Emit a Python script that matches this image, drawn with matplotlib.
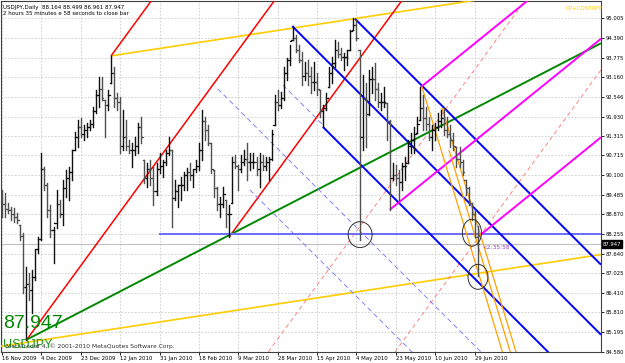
import matplotlib
matplotlib.use("Agg")
import matplotlib.pyplot as plt
from matplotlib.patches import Ellipse

# ---- daily USDJPY bars (bar index 0 = 16 Nov 2009) ----
highs = [89.64, 89.55, 89.24, 89.11, 89.08, 88.92, 88.55, 88.30, 87.24, 87.05,
         87.14, 87.77, 88.17, 90.80, 90.36, 89.86, 89.17, 88.49, 89.64, 89.33,
         89.95, 90.27, 90.36, 90.89, 91.45, 91.83, 91.89, 91.67, 91.73, 91.83,
         92.23, 92.77, 93.17, 93.17, 92.45, 92.77, 93.83, 93.48, 92.67, 92.55,
         92.14, 91.83, 91.20, 91.11, 91.30, 91.73, 91.92, 90.58, 90.49, 90.58,
         90.36, 90.49, 90.80, 90.58, 90.89, 91.30, 90.89, 89.95, 89.80, 90.05,
         90.20, 90.33, 90.49, 90.27, 90.58, 91.11, 92.14, 91.92, 91.67, 91.11,
         90.27, 89.74, 89.42, 89.74, 89.33, 89.17, 90.67, 90.74, 90.42, 90.74,
         90.89, 91.11, 90.80, 90.80, 90.67, 90.80, 90.74, 90.67, 90.67, 91.52,
         92.61, 92.77, 92.70, 93.48, 93.77, 94.17, 94.76, 94.48, 94.17, 93.95,
         93.64, 93.70, 93.48, 93.64, 93.30, 92.77, 92.30, 92.67, 93.48, 93.80,
         94.33, 94.26, 94.08, 93.92, 94.01, 94.64, 95.01, 94.95, 94.01, 93.23,
         92.98, 93.39, 93.48, 93.61, 92.98, 92.67, 92.86, 92.36, 91.83, 90.49,
         90.42, 90.27, 90.49, 90.67, 91.20, 91.42, 91.61, 91.92, 92.86, 92.61,
         92.23, 91.92, 91.67, 91.73, 92.05, 92.14, 92.20, 91.92, 91.67, 91.42,
         90.98, 90.98, 90.58, 89.95, 89.74, 89.24, 89.02, 88.499]
lows = [88.80, 88.80, 88.92, 88.70, 88.64, 88.61, 88.08, 86.42, 84.96, 86.20,
        85.80, 86.83, 87.67, 88.08, 89.64, 88.80, 88.17, 87.36, 88.45, 88.80,
        88.55, 89.42, 89.33, 89.95, 90.89, 90.98, 91.30, 91.20, 91.30, 91.52,
        91.61, 92.05, 92.23, 92.45, 91.30, 92.14, 92.98, 92.23, 92.14, 90.80,
        90.89, 90.89, 90.80, 90.36, 90.74, 90.80, 91.11, 89.86, 89.74, 89.80,
        89.17, 89.49, 90.17, 90.05, 90.42, 90.74, 88.49, 89.33, 89.11, 89.33,
        89.64, 89.64, 89.95, 89.74, 90.20, 90.27, 90.58, 91.20, 91.05, 90.17,
        89.42, 89.02, 88.80, 89.11, 88.49, 88.17, 89.24, 90.33, 89.64, 90.20,
        90.42, 89.95, 90.27, 90.33, 90.11, 89.74, 90.27, 90.27, 89.95, 90.58,
        91.67, 92.14, 92.20, 92.45, 93.08, 93.55, 94.33, 93.95, 93.64, 92.92,
        93.08, 92.92, 92.67, 92.77, 92.61, 91.92, 91.61, 92.14, 92.86, 92.98,
        93.48, 93.80, 93.70, 93.39, 93.55, 94.01, 94.64, 94.33, 88.08, 90.89,
        90.98, 91.98, 92.67, 92.45, 92.23, 92.14, 92.23, 91.20, 89.02, 89.95,
        89.80, 89.33, 89.64, 89.95, 90.49, 90.80, 90.80, 91.42, 91.83, 91.52,
        91.52, 91.20, 90.89, 91.20, 91.52, 91.61, 91.36, 91.30, 90.98, 90.89,
        90.36, 90.36, 90.11, 89.49, 89.17, 88.70, 88.17, 86.961]
closes = [89.20, 89.05, 89.00, 88.90, 88.80, 88.70, 88.20, 86.60, 86.70, 86.50,
          86.90, 87.80, 88.10, 90.30, 89.80, 89.00, 88.40, 88.60, 89.20, 88.90,
          89.70, 90.00, 90.20, 90.90, 91.30, 91.60, 91.40, 91.50, 91.60, 91.70,
          92.10, 92.60, 92.80, 92.50, 92.30, 92.60, 93.30, 92.50, 92.40, 91.00,
          91.30, 91.00, 90.90, 90.90, 91.00, 91.60, 91.30, 90.00, 90.30, 90.00,
          89.60, 90.30, 90.40, 90.50, 90.80, 90.90, 89.40, 89.60, 89.80, 89.80,
          90.10, 90.20, 90.10, 90.30, 90.40, 90.90, 91.80, 91.50, 91.10, 90.30,
          89.70, 89.20, 89.20, 89.50, 88.90, 88.90, 90.50, 90.40, 90.30, 90.50,
          90.60, 90.50, 90.50, 90.50, 90.30, 90.50, 90.40, 90.50, 90.60, 91.40,
          92.40, 92.30, 92.50, 93.30, 93.70, 94.30, 94.40, 94.00, 93.70, 93.20,
          93.30, 93.20, 93.00, 93.00, 92.80, 92.10, 92.20, 92.50, 93.30, 93.60,
          94.00, 93.90, 93.80, 93.80, 94.00, 94.60, 94.80, 94.40, 91.30, 92.50,
          92.00, 93.10, 93.10, 92.80, 92.40, 92.40, 92.40, 91.80, 90.00, 90.10,
          90.00, 89.90, 90.40, 90.40, 91.00, 91.20, 91.40, 91.70, 92.20, 91.90,
          91.70, 91.30, 91.50, 91.60, 91.80, 91.90, 91.50, 91.40, 91.20, 91.00,
          90.60, 90.50, 90.20, 89.70, 89.30, 88.90, 88.164, 87.947]
first_open = 89.40

date_pos = [0, 13, 26, 39, 52, 65, 78, 91, 104, 117, 130, 143, 156]
date_labels = ["16 Nov 2009", "4 Dec 2009", "23 Dec 2009", "12 Jan 2010",
               "31 Jan 2010", "18 Feb 2010", "9 Mar 2010", "28 Mar 2010",
               "15 Apr 2010", "4 May 2010", "23 May 2010", "10 Jun 2010",
               "29 Jun 2010"]
price_ticks = [95.005, 94.390, 93.775, 93.160, 92.546, 91.930, 91.315, 90.715,
               90.100, 89.485, 88.870, 88.255, 87.640, 87.025, 86.410, 85.810,
               85.195, 84.580]
last_price = 87.947

# ---- drawn objects: (start bar, start price), slope in price per bar ----
yellow_channel = [(36, 93.83), (-1, 84.74)]
yellow_slope = 0.01448
red_lines = [(8.2, 84.96), (36, 93.83), (75, 88.17)]
red_slope = 0.1297
red_dashed = [(79, 83.42), (94.6, 80.02)]
green_line = (8.2, 84.96)
green_slope = 0.04889
blue_level = (52, 88.26)
blue_lines = [(95.8, 94.76), (116.5, 94.99), (105.9, 91.61)]
blue_slope = -0.0947
blue_dashed = [(71.2, 92.80, 197.7), (81.8, 89.64, 197.7), (92.7, 92.92, 105.9)]
magenta_lines = [(138.3, 92.86), (128.0, 89.02), (157.1, 88.17)]
magenta_slope = 0.0767
orange_lines = [(138.6, 92.86), (145.2, 92.20), (147.5, 90.89)]
orange_slope = -0.312
circles = [(118.2, 88.24, 7.9, 0.81), (155.1, 88.30, 6.3, 0.84),
           (157.1, 86.92, 6.6, 0.78)]

W, H = 625, 363
fig = plt.figure(figsize=(W / 100, H / 100), dpi=100)
fig.patch.set_facecolor("white")
ax = fig.add_axes([1 / W, 11 / H, 600 / W, 351 / H])
X0, X1 = -0.33, 197.7
ax.set_xlim(X0, X1)
ax.set_ylim(84.57, 95.546)

small = ["Liberation Sans Narrow", "DejaVu Sans"]

# grid
ax.set_xticks(date_pos)
ax.set_yticks(price_ticks)
ax.grid(True, color="#c8c8c8", lw=0.6, ls=(0, (2, 2)))
ax.set_axisbelow(True)
ax.yaxis.tick_right()
ax.set_xticklabels(date_labels, ha="left", fontsize=3.9, family=small)
ax.set_yticklabels([f"{p:.3f}" for p in price_ticks], fontsize=3.8, family=small)
ax.tick_params(axis="both", length=2, width=0.6, pad=1, colors="black")
for s in ax.spines.values():
    s.set_color("#404040")
    s.set_linewidth(0.8)

# bid line
ax.axhline(last_price, color="#c0c0c0", lw=0.8, zorder=1)


def ray(start, slope, end, **kw):
    i0, p0 = start
    ax.plot([i0, end], [p0, p0 + slope * (end - i0)], solid_capstyle="butt", **kw)


for st in yellow_channel:
    ray(st, yellow_slope, X1, color="#ffcc00", lw=1.2, zorder=3)
for st in red_lines:
    ray(st, red_slope, X1, color="#ff0000", lw=1.1, zorder=3)
for st in red_dashed:
    ray(st, red_slope, X1, color="#ff7070", lw=0.6, ls=(0, (5, 4)), zorder=3)
ray(green_line, green_slope, X1, color="#008800", lw=1.4, zorder=3)
ax.plot([blue_level[0], X1], [blue_level[1]] * 2, color="#6b6bff", lw=1.4, zorder=3)
for st in blue_lines:
    ray(st, blue_slope, X1, color="#0000ff", lw=1.4, zorder=3)
for i0, p0, i1 in blue_dashed:
    ray((i0, p0), blue_slope, i1, color="#7070ff", lw=0.6, ls=(0, (6, 4)), zorder=3)
for st in magenta_lines:
    ray(st, magenta_slope, X1, color="#ff00ff", lw=1.4, zorder=3)
for st in orange_lines:
    ray(st, orange_slope, X1, color="#ffa000", lw=0.9, zorder=3)

# OHLC bars
opens = [first_open] + closes[:-1]
for i in range(len(closes)):
    o = min(max(opens[i], lows[i]), highs[i])
    c = closes[i]
    col = "#101010" if c >= o else "#505050"
    ax.plot([i, i], [lows[i], highs[i]], color=col, lw=1.0, zorder=4)
    ax.plot([i - 0.5, i], [o, o], color=col, lw=0.9, zorder=4)
    ax.plot([i, i + 0.5], [c, c], color=col, lw=0.9, zorder=4)

for cx, cy, w, h in circles:
    ax.add_patch(Ellipse((cx, cy), w, h, fill=False, ec="#303030", lw=0.7, zorder=5))

ax.text(158.6, 87.85, "<2:35:58", color="#a040c0", fontsize=4.2, family=small,
        va="center", ha="left", zorder=6)

# current price box on the axis
ax.text(1.003, last_price, f"{last_price:.3f}", transform=ax.get_yaxis_transform(),
        fontsize=3.8, family=small, color="white", va="center", ha="left",
        bbox=dict(boxstyle="square,pad=0.2", fc="black", ec="black"), zorder=7)

# header / labels
fig.text(3 / W, 1 - 7 / H, "USDJPY,Daily  88.164 88.499 86.961 87.947",
         fontsize=4.0, family=small, va="center", ha="left")
fig.text(3 / W, 1 - 13.5 / H, "2 hours 35 minutes e 58 seconds to close bar",
         fontsize=4.0, family=small, va="center", ha="left")
fig.text(566 / W, 1 - 8 / H, "CP+CONTRFE", fontsize=4.0, family=small,
         color="#ffcc00", va="center", ha="left")
fig.text(6 / W, 1 - 346 / H, "MetaTrader 4, \u00a9 2001-2010 MetaQuotes Software Corp.",
         fontsize=4.3, family=small, color="#303030", va="center", ha="left")
fig.text(3 / W, 1 - 324 / H, "87.947", fontsize=14, family=["Liberation Sans", "DejaVu Sans"],
         color="#008800", va="center", ha="left")
fig.text(3 / W, 1 - 345 / H, "USDJPY", fontsize=9, family=["Liberation Sans", "DejaVu Sans"],
         color="#008800", va="center", ha="left", alpha=0.9)

fig.savefig("out.png", dpi=100)
